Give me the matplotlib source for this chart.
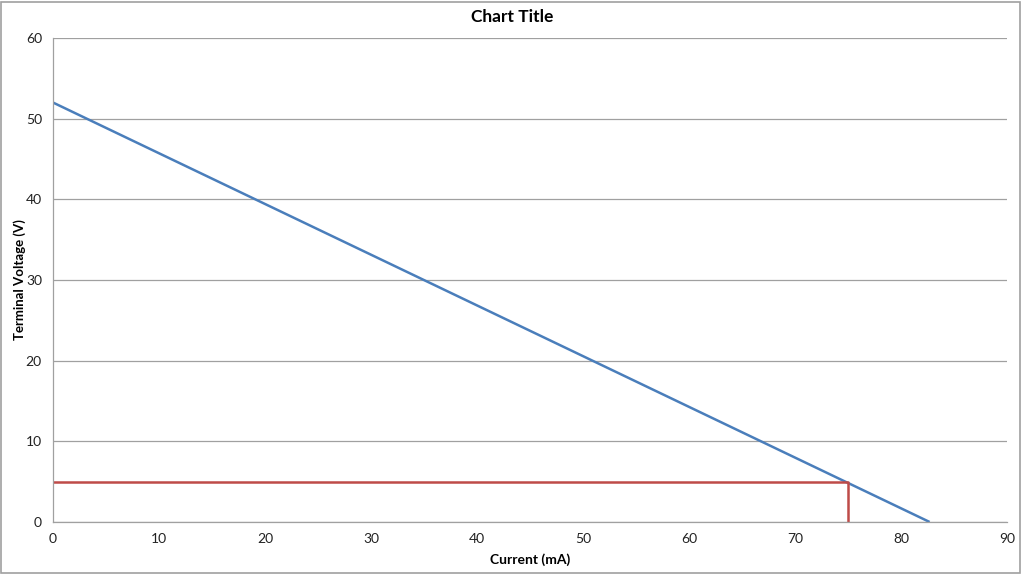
import matplotlib
matplotlib.use("Agg")
import matplotlib.pyplot as plt
from matplotlib.patches import Rectangle

# terminal voltage vs current line
current = [0, 82.7]
voltage = [52, 0]

# operating point marker lines
op_x = [0, 75, 75]
op_y = [5, 5, 0]

plt.rcParams['font.family'] = ['Lato', 'DejaVu Sans']

fig = plt.figure(figsize=(10.24, 5.76), dpi=100)
ax = fig.add_axes([53 / 1024, 1 - 522 / 576, 954 / 1024, 484 / 576])

ax.plot(current, voltage, color='#4A7EBB', linewidth=1.8, solid_capstyle='butt')
ax.plot(op_x, op_y, color='#BE4B48', linewidth=1.8, solid_capstyle='butt')

ax.set_xlim(0, 90)
ax.set_ylim(0, 60)
ax.set_xticks(range(0, 91, 10))
ax.set_yticks(range(0, 61, 10))
ax.grid(axis='y', color='#A0A0A0', linewidth=0.9)
ax.set_axisbelow(True)
for s in ['top', 'right']:
    ax.spines[s].set_visible(False)
for s in ['left', 'bottom']:
    ax.spines[s].set_color('#A0A0A0')
    ax.spines[s].set_linewidth(0.9)
ax.tick_params(length=0, labelsize=10, colors='#222222', pad=8)

ax.set_xlabel('Current (mA)', fontsize=10, fontweight='bold', labelpad=6)
fig.text(20 / 1024, 1 - 280 / 576, 'Terminal Voltage (V)', ha='center', va='center',
         rotation=90, fontsize=9.5, fontweight='bold')
fig.text(0.5, 1 - 17 / 576, 'Chart Title', ha='center', va='center',
         fontsize=12.5, fontweight='bold')

fig.patches.append(Rectangle((1 / 1024, 3 / 576), 1019 / 1024, 571 / 576,
                             transform=fig.transFigure, fill=False,
                             edgecolor='#A0A0A0', linewidth=1.2))

fig.savefig('out.png', dpi=100)
